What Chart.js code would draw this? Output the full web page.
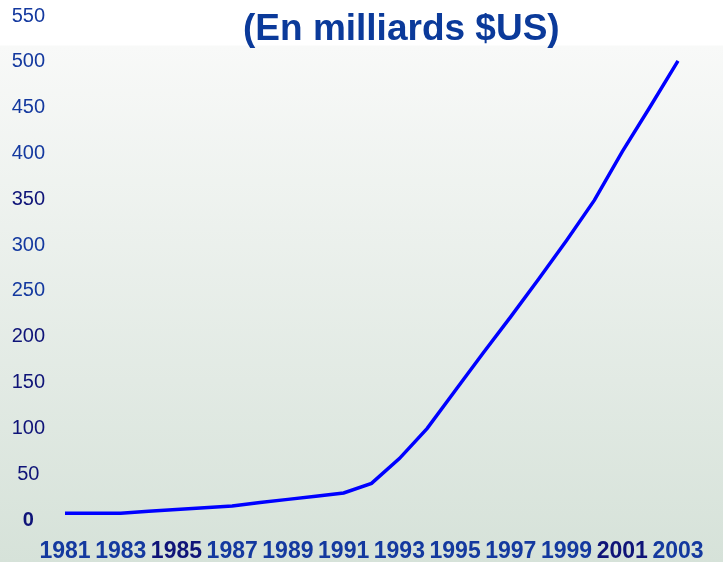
<!DOCTYPE html>
<html>
<head>
<meta charset="utf-8">
<script src="https://cdn.jsdelivr.net/npm/chart.js@4"></script>
<style>
  html, body { margin: 0; padding: 0; }
  body {
    width: 723px; height: 562px; overflow: hidden; position: relative;
    background: linear-gradient(to bottom, #ffffff 0px, #ffffff 45px, #f8f9f8 46px, #d6e2d9 562px);
  }
  #wrap { position: absolute; left: 0; top: 0; width: 723px; height: 562px; }
  #title {
    position: absolute; left: 243px; top: 9px; margin: 0;
    font-family: "Liberation Sans", Arial, sans-serif; font-weight: bold;
    font-size: 37px; line-height: 37px; color: #0b3a9a; white-space: nowrap;
  }
</style>
</head>
<body>
<div id="wrap"><canvas id="chart" width="723" height="562"></canvas></div>
<h1 id="title">(En milliards $US)</h1>
<script>
var years = ['1981', '1982', '1983', '1984', '1985', '1986', '1987', '1988', '1989', '1990', '1991', '1992',
  '1993', '1994', '1995', '1996', '1997', '1998', '1999', '2000', '2001', '2002', '2003'];
var valeurs = [7.5, 7.5, 7.3, 9.5, 11.5, 13.5, 15.3, 19, 22.5, 26, 29.5, 40,
  67, 100, 141, 182, 222, 263, 305, 349, 402, 451, 501];
var darkYears = ['1985', '2001'];
var darkValues = [350, 200, 150, 100, 50, 0];

var blue = '#14399f';
var navy = '#0f1478';

function yearLabel(i) {
  var y = years[i];
  return (parseInt(y) % 2 === 1) ? y : '';
}

const ctx = document.getElementById('chart');
const chart = new Chart(ctx, {
  type: 'line',
  data: {
    labels: years,
    datasets: [{
      label: 'milliards $US',
      data: valeurs,
      borderColor: '#0000ff',
      borderWidth: 3.5,
      fill: false,
      tension: 0,
      pointRadius: 0
    }]
  },
  options: {
    responsive: false,
    animation: false,
    layout: { padding: { top: 16, right: 45, bottom: 0, left: 0 } },
    plugins: {
      legend: { display: false },
      tooltip: { enabled: false }
    },
    scales: {
      x: {
        offset: false,
        grid: { display: false, drawTicks: false },
        border: { display: false },
        afterFit: function (scale) { scale.height = 42; },
        ticks: {
          autoSkip: false,
          maxRotation: 0,
          padding: 18,
          callback: function (value, index) { return yearLabel(index); },
          color: function (c) {
            return darkYears.indexOf(years[c.index]) >= 0 ? navy : blue;
          },
          font: { family: '"Liberation Sans Narrow", "Liberation Sans", Arial, sans-serif', size: 23, weight: 'bold' }
        }
      },
      y: {
        min: 0,
        max: 550,
        grid: { display: false, drawTicks: false },
        border: { display: false },
        afterFit: function (scale) {
          scale.width = 65;
          scale.paddingTop = 0;
          scale.paddingBottom = 0;
        },
        ticks: {
          stepSize: 50,
          crossAlign: 'center',
          padding: 20,
          color: function (c) {
            return darkValues.indexOf(c.tick.value) >= 0 ? navy : blue;
          },
          font: function (c) {
            return {
              family: '"Liberation Sans", Arial, sans-serif',
              size: 20,
              weight: c.tick && c.tick.value === 0 ? 'bold' : 'normal'
            };
          }
        }
      }
    }
  }
});
</script>
</body>
</html>
